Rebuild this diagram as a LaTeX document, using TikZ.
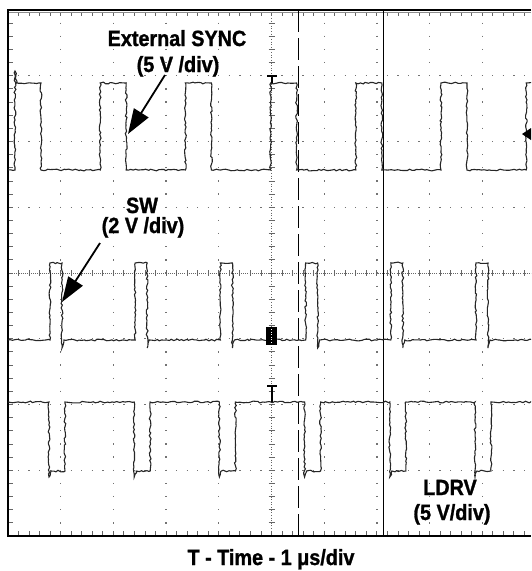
\documentclass[tikz,border=0pt]{standalone}
\usepackage{fontspec}
\setmainfont[FakeStretch=0.9,BoldFeatures={FakeBold=1.2}]{Liberation Sans}
\usetikzlibrary{arrows.meta,decorations.pathmorphing}
\begin{document}
\begin{tikzpicture}[x=1pt,y=-1pt,
    trace/.style={line width=1.1pt,black!85,decorate,decoration={random steps,segment length=2.5pt,amplitude=0.9pt}},
    pointer/.style={line width=1.8pt,-{Triangle[length=25pt,width=17pt]}},
    lbl/.style={font=\fontsize{22}{26}\selectfont\bfseries,inner sep=0pt,anchor=base},
    vdots/.style={line width=1.3pt,black!55,dash pattern=on 1.3pt off 11.85pt},
    hdots/.style={line width=1.3pt,black!55,dash pattern=on 1.3pt off 9.24pt}]
  \useasboundingbox (0,0) rectangle (531,571);
  \pgfmathsetseed{7}
  \begin{scope}
    \clip (0,0) rectangle (531,571);
    % graticule
    \foreach \i in {1,2,3,4,6,7,8,9}
      \draw[vdots] ({8+52.7*\i},9.35) -- ({8+52.7*\i},537);
    \foreach \j in {1,2,3,5,6,7}
      \draw[hdots] (7.35,{10+65.75*\j}) -- (535,{10+65.75*\j});
    \draw[line width=1pt,black!60,dash pattern=on 1pt off 1.63pt] (271.5,10) -- (271.5,536);
    \draw[line width=1pt,black!60,dash pattern=on 1pt off 1.1pt] (8,273) -- (535,273);
    \foreach \j in {1,...,39} {
      \draw[black!60,line width=0.9pt] (268.5,{10+13.15*\j}) -- (274.5,{10+13.15*\j});
      \draw[black!60,line width=0.9pt] (9,{10+13.15*\j}) -- (12.5,{10+13.15*\j});
    }
    \foreach \i in {1,...,49} {
      \draw[black!60,line width=0.9pt] ({8+10.54*\i},270) -- ({8+10.54*\i},276);
      \draw[black!60,line width=0.9pt] ({8+10.54*\i},13) -- ({8+10.54*\i},16);
      \draw[black!60,line width=0.9pt] ({8+10.54*\i},531) -- ({8+10.54*\i},534.5);
    }
    % frame
    \draw[black!45,line width=0.8pt] (8,12.5) -- (531,12.5);
    \draw[line width=1.8pt] (531,10) -- (8,10) -- (8,536) -- (531,536);
    % cursors
    \draw[line width=1pt,dash pattern=on 22pt off 6pt] (298,10) -- (298,536);
    \draw[line width=1pt] (383,10) -- (383,536);
    % traces
    \draw[trace] (8,170) -- (15,170) -- (15,71) -- (17,83) \foreach \k in {0,...,6} {
      -- ({41+85.2*\k},83) -- ({41+85.2*\k},170) -- ({100.2+85.2*\k},170) -- ({100.2+85.2*\k},83)};
    \draw[trace] (8,340) \foreach \k in {0,...,5} {
      -- ({50+85.2*\k},340) -- ({50+85.2*\k},263) -- ({62+85.2*\k},263) -- ({62+85.2*\k},348) -- ({64+85.2*\k},340)}
      -- (540,340);
    \draw[trace] (8,402) \foreach \k in {0,...,5} {
      -- ({49+85.2*\k},402) -- ({49+85.2*\k},477) -- ({51+85.2*\k},471) -- ({65+85.2*\k},471) -- ({65+85.2*\k},402)}
      -- (540,402);
    % markers
    \fill (266,327) rectangle (277,345);
    \draw[white,line width=1pt,dash pattern=on 1pt off 1.6pt] (271.5,329) -- (271.5,344);
    \draw[line width=1.3pt] (267,386) -- (277,386) (272,386) -- (272,402);
    \draw[line width=1.3pt] (267,76) -- (277,76) (272,76) -- (272,83);
    \fill (522,134) -- (531,128) -- (531,140) -- cycle;
  \end{scope}
  % labels
  \node[lbl] (syncname) at (177,46) {External SYNC};
  \node[lbl] (syncscale) at (178,72) {(5 V /div)};
  \node[lbl] (swname) at (142,213) {SW};
  \node[lbl] (swscale) at (143,233) {(2 V /div)};
  \node[lbl] (ldrvname) at (450,495) {LDRV};
  \node[lbl] (ldrvscale) at (452,520) {(5 V/div)};
  \node[lbl] (timeaxis) at (271,565) {T - Time - 1 μs/div};
  \coordinate (syncfoot) at (165,75);
  \coordinate (synctip) at (128,134);
  \coordinate (swfoot) at (100,243);
  \coordinate (swtip) at (62,302);
  \draw[pointer] (syncfoot) -- (synctip);
  \draw[pointer] (swfoot) -- (swtip);
\end{tikzpicture}
\end{document}
